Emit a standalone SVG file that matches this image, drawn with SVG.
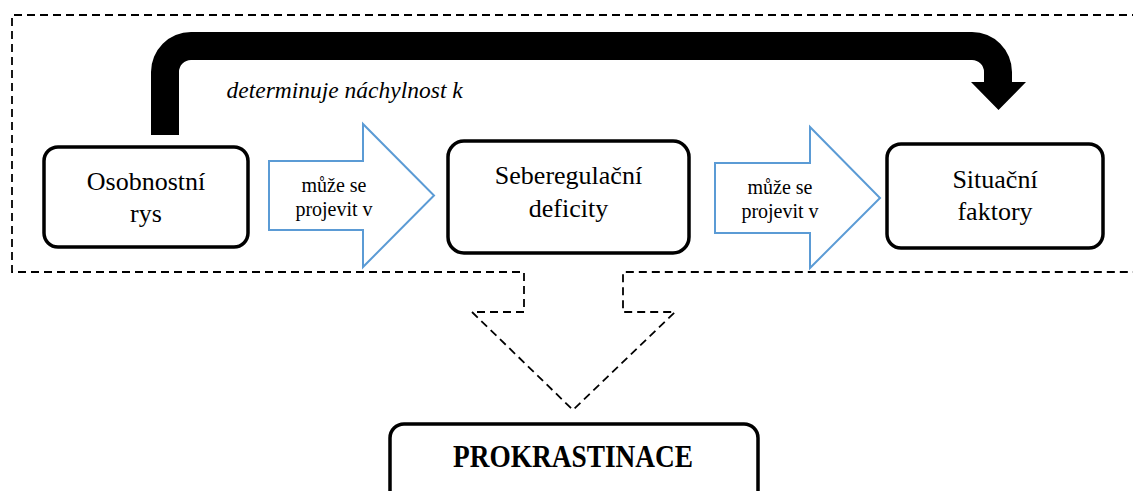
<svg xmlns="http://www.w3.org/2000/svg" width="1133" height="491" viewBox="0 0 1133 491">
  <style>
    text { font-family: "Liberation Serif", "Tinos", "DejaVu Serif", "Noto Serif", serif; fill: #000000; }
    .box { fill: #ffffff; stroke: #000000; stroke-width: 3.5; }
    .lbl { font-size: 26px; text-anchor: middle; }
    .small { font-size: 20px; text-anchor: middle; }
    .blue { fill: #ffffff; stroke: #5B9BD5; stroke-width: 2; stroke-linejoin: miter; }
    .dash { fill: none; stroke: #000000; stroke-width: 1.8; stroke-dasharray: 8 5; }
  </style>

  <rect width="1133" height="491" fill="#ffffff"/>

  <!-- dashed frame with downward block arrow -->
  <g id="frame">
    <path class="dash" d="M1140,15 H12 V272 H524 V312 H472 L573,410 L675,312 H623 V272 H1140"/>
  </g>

  <g id="connectors">
    <!-- thick curved arrow from trait to situational factors -->
    <path fill="#000000" d="M151,135 V72 A40,40 0 0 1 191,32 H972 A40,40 0 0 1 1012,72 V82 H1026 L998.5,110 L971,82 H984 V72 A12,12 0 0 0 972,60 H191 A12,12 0 0 0 179,72 V135 Z"/>
    <text x="226.5" y="97.5" font-size="23.5" font-style="italic">determinuje náchylnost k</text>

    <!-- block arrows -->
    <path class="blue" d="M269,161 H363 V124 L434,195.5 L363,267 V230 H269 Z"/>
    <text class="small" x="334" y="192">může se</text>
    <text class="small" x="334" y="216">projevit v</text>

    <path class="blue" d="M715,163 H810 V127 L880,198 L810,268 V233 H715 Z"/>
    <text class="small" x="780" y="194">může se</text>
    <text class="small" x="780" y="218">projevit v</text>
  </g>

  <g id="node-osobnostni">
    <rect class="box" x="44" y="147" width="204" height="100" rx="14"/>
    <text class="lbl" x="146" y="190">Osobnostní</text>
    <text class="lbl" x="146" y="222">rys</text>
  </g>

  <g id="node-seberegulacni">
    <rect class="box" x="448" y="141" width="241" height="112" rx="16"/>
    <text class="lbl" x="568.5" y="184">Seberegulační</text>
    <text class="lbl" x="568.5" y="217">deficity</text>
  </g>

  <g id="node-situacni">
    <rect class="box" x="887" y="144" width="216" height="104" rx="14"/>
    <text class="lbl" x="995" y="188">Situační</text>
    <text class="lbl" x="995" y="220">faktory</text>
  </g>

  <g id="node-prokrastinace">
    <rect class="box" x="390" y="424" width="368" height="90" rx="14"/>
    <text x="573" y="467" font-size="32" font-weight="bold" text-anchor="middle" textLength="240" lengthAdjust="spacingAndGlyphs">PROKRASTINACE</text>
  </g>
</svg>
